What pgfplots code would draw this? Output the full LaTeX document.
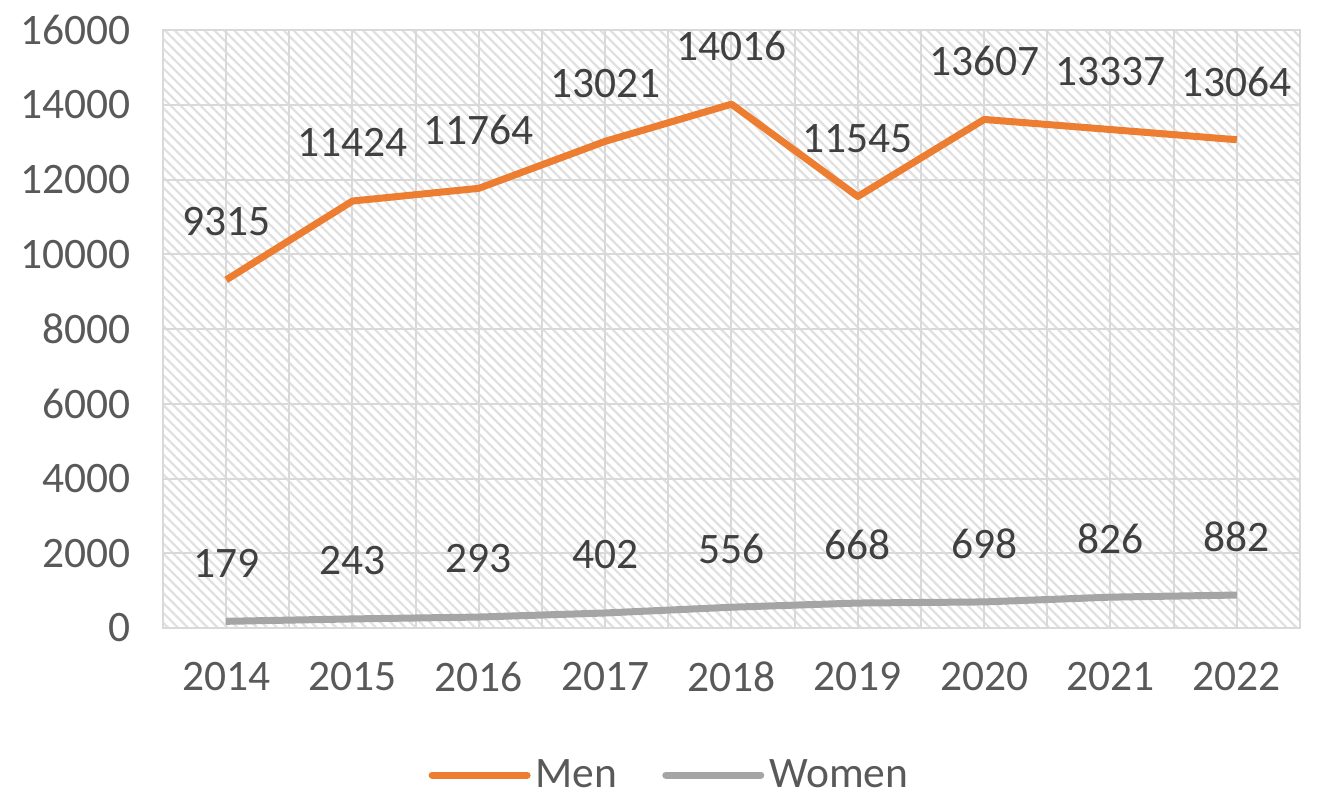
\documentclass[border=0pt]{standalone}
\usepackage{pgfplots}
\pgfplotsset{compat=1.18}
\usepackage{fontspec}
\setmainfont{Carlito}
\usetikzlibrary{patterns.meta}
\definecolor{menc}{HTML}{ED7D31}
\definecolor{womc}{HTML}{A5A5A5}
\definecolor{txt}{HTML}{595959}
\definecolor{lbl}{HTML}{404040}
\definecolor{gridc}{HTML}{D9D9D9}
\definecolor{hatch}{HTML}{E0E0E0}
\begin{document}
\begin{tikzpicture}
\begin{axis}[name=ax, scale only axis, width=454.8pt, height=239.2pt,
 xmin=-0.5, xmax=8.5, ymin=0, ymax=16000,
 scaled ticks=false,
 xtick={0,...,8}, xticklabels={2014,2015,2016,2017,2018,2019,2020,2021,2022},
 minor xtick={-0.5,0.5,...,8.5},
 ytick={0,2000,...,16000},
 grid=both,
 major grid style={gridc, line width=0.8pt},
 minor grid style={gridc, line width=0.8pt},
 major tick length=0pt, minor tick length=0pt,
 axis line style={gridc, line width=0.8pt},
 axis background/.style={pattern={Lines[angle=-45,distance=2.8pt,line width=0.9pt]}, pattern color=hatch},
 tick label style={font=\fontsize{17.4}{20}\selectfont, text=txt},
 /pgf/number format/1000 sep={},
 /pgf/number format/assume math mode=true,
 yticklabel style={xshift=-9.4pt},
 xticklabel style={yshift=-10pt},
 nodes near coords,
 every node near coord/.append style={anchor=center, yshift=23.3pt, font=\fontsize{17.4}{20}\selectfont, text=lbl},
 legend style={at={(0.4468,-0.2458)}, anchor=center, draw=none, fill=none, font=\fontsize{17.4}{20}\selectfont, text=txt, /tikz/every even column/.append style={column sep=16pt}},
 legend columns=2,
 legend image code/.code={\draw[#1, line width=2.8pt, line cap=round] (0pt,0pt) -- (38pt,0pt);},
]
\addplot[menc, line width=2.8pt, line join=round] coordinates {
(0,9315) (1,11424) (2,11764) (3,13021) (4,14016) (5,11545) (6,13607) (7,13337) (8,13064)};
\addlegendentry{Men}
\addplot[womc, line width=2.8pt, line join=round] coordinates {
(0,179) (1,243) (2,293) (3,402) (4,556) (5,668) (6,698) (7,826) (8,882)};
\addlegendentry{Women}
\end{axis}
\pgfresetboundingbox
\path ([shift={(-65.2pt,-71.2pt)}]ax.south west) rectangle ([shift={(462.8pt,251.2pt)}]ax.south west);
\end{tikzpicture}
\end{document}
